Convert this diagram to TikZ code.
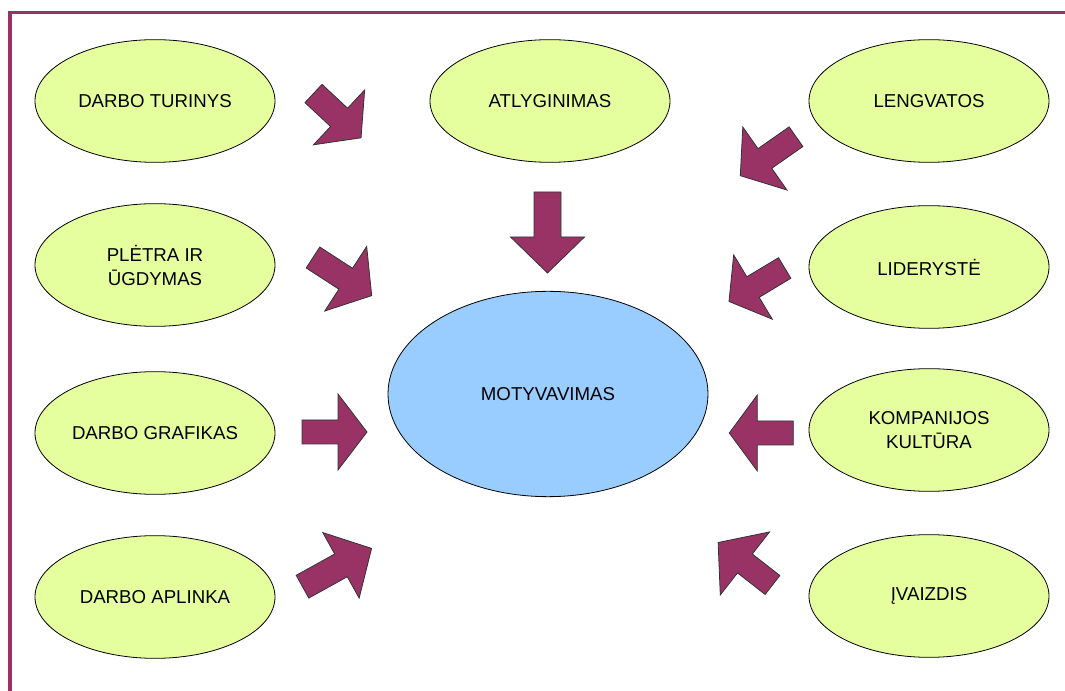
\documentclass[tikz,border=0pt]{standalone}
\usepackage{fontspec}
\setmainfont{Liberation Sans}
\usepackage{xcolor}
\usepackage{tikz}
\usetikzlibrary{shapes.geometric}

\definecolor{plum}{HTML}{993366}
\definecolor{limefill}{HTML}{E6FF9E}
\definecolor{skyfill}{HTML}{99CCFF}

\begin{document}
\begin{tikzpicture}[
  x=0.75pt, y=-0.75pt,
  factor/.style={ellipse, draw=black, fill=limefill, line width=0.6pt, minimum width=180pt, minimum height=92pt, inner sep=0pt, align=center, font=\fontsize{14}{18}\selectfont},
  goal/.style={ellipse, draw=black, fill=skyfill, line width=0.6pt, minimum width=240pt, minimum height=154pt, inner sep=0pt, font=\fontsize{14}{18}\selectfont},
  frame/.style={plum, line width=2.4pt},
  blockfill/.style={fill=plum, draw=black!80, line width=0.6pt, line join=miter},
  pics/blockarrow/.style n args={4}{code={
    \draw[blockfill] (0,-#2/2) -- (#1-#4,-#2/2) -- (#1-#4,-#3/2) -- (#1,0)
      -- (#1-#4,#3/2) -- (#1-#4,#2/2) -- (0,#2/2) -- cycle;
  }}
]
\useasboundingbox (0,0) rectangle (1065,691);

% frame
\draw[frame] (10,691) -- (10,12.5) -- (1065,12.5);

% factors
\node[factor] (turinys) at (155,101) {DARBO TURINYS};
\node[factor] (atlyginimas) at (550,101) {ATLYGINIMAS};
\node[factor] (lengvatos) at (929,101) {LENGVATOS};
\node[factor] (pletra) at (155,265) {PLĖTRA IR\\ŪGDYMAS};
\node[factor] (lideryste) at (929,267) {LIDERYSTĖ};
\node[factor] (grafikas) at (155,433) {DARBO GRAFIKAS};
\node[factor] (kultura) at (929,430) {KOMPANIJOS\\KULTŪRA};
\node[factor] (aplinka) at (155,597) {DARBO APLINKA};
\node[factor] (ivaizdis) at (929,596) {ĮVAIZDIS};

\node[goal] (motyvavimas) at (548,394) {MOTYVAVIMAS};

% block arrows towards the goal
\pic[rotate=-43] at (313.5,93.5) {blockarrow={65}{25}{75}{30}};
\pic[rotate=-90] at (547.5,192) {blockarrow={81}{27}{74}{36}};
\pic[rotate=-145] at (796,136.7) {blockarrow={68}{24}{77}{30}};
\pic[rotate=-33] at (313,257.5) {blockarrow={70}{25}{77}{31}};
\pic[rotate=-149] at (784.7,268) {blockarrow={65}{24}{75}{28}};
\pic at (302,432) {blockarrow={65}{24}{76}{29}};
\pic[rotate=180] at (793.3,433) {blockarrow={64}{24}{76}{28}};
\pic[rotate=29] at (302.5,586.7) {blockarrow={79}{26}{75}{35}};
\pic[rotate=142] at (772.5,585) {blockarrow={69}{24}{80}{34}};

\end{tikzpicture}
\end{document}
